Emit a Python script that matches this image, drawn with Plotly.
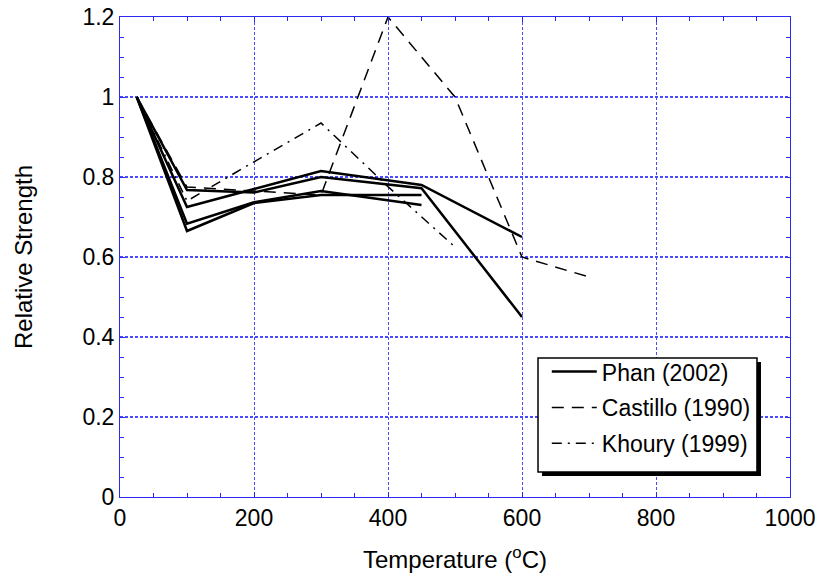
import plotly.graph_objects as go

# ---- data ----
phan_temp_a = [25, 100, 200, 300, 450, 600]
phan_a = [1.0, 0.7675, 0.761, 0.80, 0.772, 0.45]
phan_temp_b = [25, 100, 200, 300, 450, 600]
phan_b = [1.0, 0.725, 0.77, 0.815, 0.78, 0.65]
phan_temp_c = [25, 100, 200, 300, 450]
phan_c = [1.0, 0.683, 0.737, 0.765, 0.73]
phan_temp_d = [25, 100, 200, 300, 450]
phan_d = [1.0, 0.665, 0.735, 0.755, 0.755]

castillo_temp = [25, 100, 200, 300, 400, 500, 600, 700]
castillo = [1.0, 0.775, 0.765, 0.755, 1.2, 1.0, 0.60, 0.55]

khoury_temp = [25, 100, 200, 300, 400, 500]
khoury = [1.0, 0.74, 0.838, 0.935, 0.776, 0.625]

x_ticks = [0, 200, 400, 600, 800, 1000]
y_ticks = [0, 0.2, 0.4, 0.6, 0.8, 1.0, 1.2]
y_tick_labels = ["0", "0.2", "0.4", "0.6", "0.8", "1", "1.2"]

FONT = "Liberation Sans, Arial, sans-serif"
AXISBLUE = "#2a2af0"
GRIDBLUE = "#4a4aff"

fig = go.Figure()

phan_sets = [(phan_temp_a, phan_a), (phan_temp_b, phan_b),
             (phan_temp_c, phan_c), (phan_temp_d, phan_d)]
for i, (xs, ys) in enumerate(phan_sets):
    fig.add_trace(go.Scatter(
        x=xs, y=ys, mode="lines", name="Phan (2002)",
        legendgroup="phan", showlegend=(i == 0),
        line=dict(color="black", width=2.5)))

fig.add_trace(go.Scatter(
    x=castillo_temp, y=castillo, mode="lines", name="Castillo (1990)",
    legendgroup="castillo",
    line=dict(color="black", width=1.5, dash="12px,8px")))

fig.add_trace(go.Scatter(
    x=khoury_temp, y=khoury, mode="lines", name="Khoury (1999)",
    legendgroup="khoury",
    line=dict(color="black", width=1.5, dash="10px,6px,2px,6px")))

axis_common = dict(
    showline=True, linecolor=AXISBLUE, linewidth=1, mirror="allticks",
    ticks="inside", ticklen=5, tickcolor=AXISBLUE, tickwidth=1,
    showgrid=True, gridcolor=GRIDBLUE, griddash="3px,2px",
    zeroline=False, automargin=False,
    tickfont=dict(family=FONT, size=23, color="black"),
)

fig.update_xaxes(
    range=[0, 1000], tickmode="array", tickvals=x_ticks, gridwidth=1,
    title=dict(text="Temperature (<sup>o</sup>C)",
               font=dict(family=FONT, size=24, color="black"), standoff=21),
    minor=dict(dtick=50, ticks="inside", ticklen=4, tickcolor=AXISBLUE, showgrid=False),
    **axis_common)
fig.update_yaxes(
    range=[0, 1.2], tickmode="array", tickvals=y_ticks, ticktext=y_tick_labels,
    gridwidth=1.6,
    title=dict(text="Relative Strength",
               font=dict(family=FONT, size=24, color="black"), standoff=43),
    minor=dict(dtick=0.05, ticks="inside", ticklen=4, tickcolor=AXISBLUE, showgrid=False),
    **axis_common)

# legend shadow and frame (decorative)
fig.add_shape(type="rect", xref="paper", yref="paper",
              x0=0.6299, x1=0.9567, y0=0.0437, y1=0.2812,
              fillcolor="black", line=dict(width=0), layer="above")
fig.add_shape(type="rect", xref="paper", yref="paper",
              x0=0.6239, x1=0.9507, y0=0.0521, y1=0.2896,
              fillcolor="white", line=dict(color="black", width=1.5), layer="above")

fig.update_layout(
    width=822, height=581,
    margin=dict(l=120, r=32, t=17, b=84),
    paper_bgcolor="white", plot_bgcolor="white",
    font=dict(family=FONT, color="black"),
    legend=dict(x=0.637, y=0.306, xanchor="left", yanchor="top",
                bgcolor="rgba(0,0,0,0)", borderwidth=0,
                font=dict(family=FONT, size=23, color="black"),
                itemwidth=45,
                traceorder="grouped", tracegroupgap=3),
)

fig.write_html("out.html")
